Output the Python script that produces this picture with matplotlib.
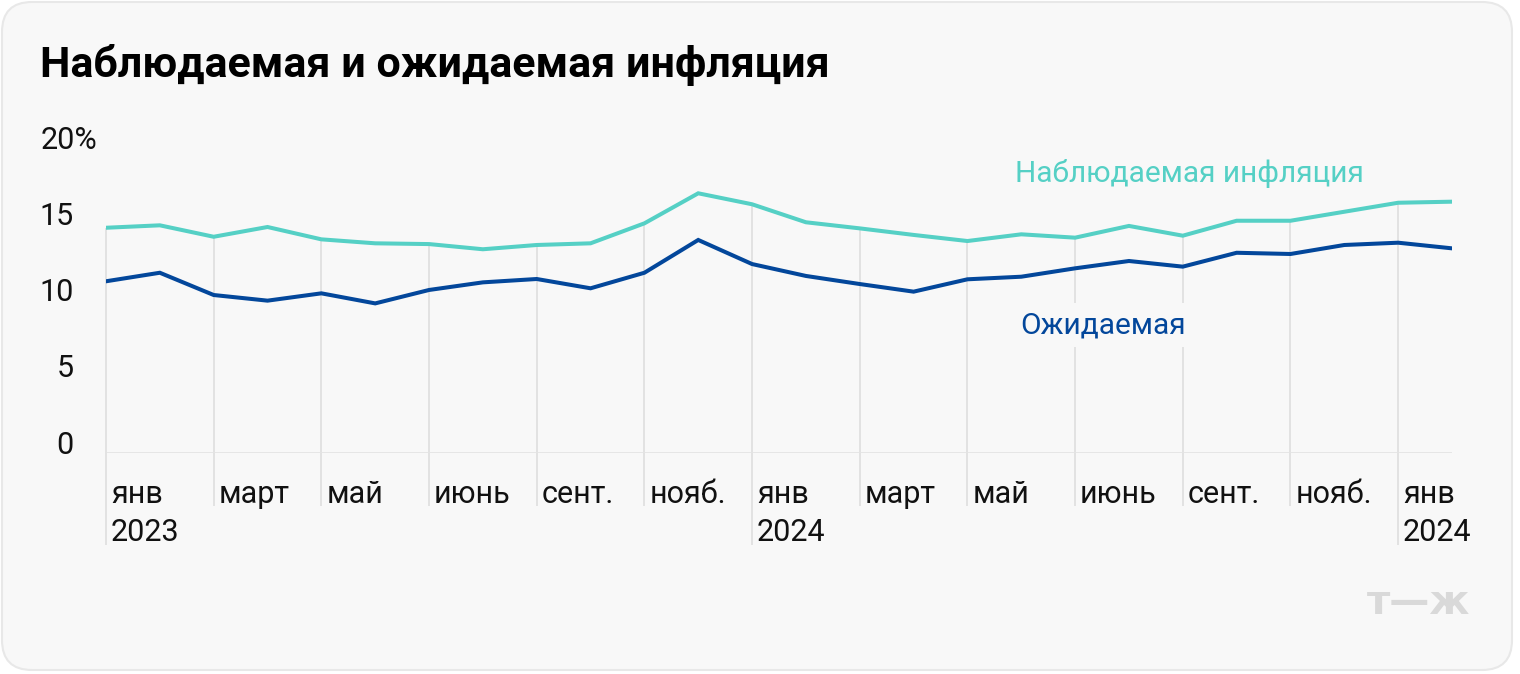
import numpy as np
import matplotlib.pyplot as plt
from matplotlib.patches import FancyBboxPatch
from matplotlib.transforms import IdentityTransform

# monthly points, jan 2023 .. feb 2025
observed = [14.77, 14.93, 14.18, 14.82, 14.01, 13.75, 13.70, 13.36, 13.64, 13.75,
            15.06, 17.03, 16.31, 15.13, 14.73, 14.30, 13.90, 14.34, 14.12, 14.89,
            14.25, 15.23, 15.23, 15.82, 16.41, 16.48]
expected = [11.26, 11.82, 10.36, 9.99, 10.47, 9.81, 10.69, 11.19, 11.41, 10.80,
            11.82, 13.97, 12.39, 11.61, 11.08, 10.58, 11.39, 11.56, 12.11, 12.59,
            12.22, 13.13, 13.05, 13.64, 13.79, 13.42]
month_labels = ["янв", "март", "май", "июнь", "сент.", "нояб.", "янв",
                "март", "май", "июнь", "сент.", "нояб.", "янв"]
year_labels = {0: "2023", 6: "2024", 12: "2024"}
y_ticks = [0, 5, 10, 15, 20]

CYAN = "#55d0c5"
BLUE = "#03479b"
CARD = "#f8f8f8"
GRID = "#e2e2e2"

plt.rcParams['font.family'] = ['Roboto', 'DejaVu Sans']

W, H = 1520, 674
fig = plt.figure(figsize=(W / 100, H / 100), dpi=100)
fig.patch.set_facecolor("white")

card = FancyBboxPatch((2, 4), 1510, 668, boxstyle="round,pad=0,rounding_size=30",
                      transform=IdentityTransform(), facecolor=CARD,
                      edgecolor="#e8e8e8", linewidth=1.5, zorder=0)
fig.add_artist(card)

x = np.arange(len(observed))
ax = fig.add_axes([106 / W, 1 - 453 / H, (1452 - 106) / W, 305 / H])
ax.set_xlim(0, len(observed) - 1)
ax.set_ylim(0, 20)
ax.axis("off")

# vertical gridlines: from the observed line down below the month labels
tick_idx = np.arange(0, len(observed), 2)
for k, i in enumerate(tick_idx):
    bottom = -6.0 if k in year_labels else -3.5
    ax.vlines(i, bottom, observed[i], color=GRID, linewidth=1.4, zorder=1, clip_on=False)
    ax.text(i + 0.09, -2.75, month_labels[k], fontsize=22, va="center", ha="left",
            color="#111111", clip_on=False)
    if k in year_labels:
        ax.text(i + 0.09, -5.2, year_labels[k], fontsize=22, va="center", ha="left",
                color="#111111", clip_on=False)

ax.hlines(0, 0, len(observed) - 1, color="#e4e4e4", linewidth=2, zorder=1)

ax.plot(x, observed, color=CYAN, linewidth=2.9, zorder=3, solid_joinstyle="miter")
ax.plot(x, expected, color=BLUE, linewidth=2.9, zorder=3, solid_joinstyle="miter")

ytr = ax.get_yaxis_transform()
for v in y_ticks:
    label = f"{v}%" if v == 20 else str(v)
    ax.text(-0.0486 if v == 20 else -0.024, v + 0.52, label, transform=ytr,
            fontsize=22, ha="left" if v == 20 else "right", va="center",
            color="#111111", clip_on=False)

ax.text(16.88, 18.3, "Наблюдаемая инфляция", fontsize=21.5, color=CYAN,
        ha="left", va="center")
ax.text(16.98, 8.39, "Ожидаемая", fontsize=21.5, color=BLUE, ha="left", va="center",
        bbox=dict(facecolor=CARD, edgecolor="none", pad=6), zorder=4)

fig.text(40 / W, 1 - 65 / H, "Наблюдаемая и ожидаемая инфляция", fontsize=31,
         fontweight="bold", ha="left", va="center", color="#000000")

fig.text(1419 / W, 1 - 603 / H, "т—ж", fontsize=29, fontweight="bold",
         family="DejaVu Sans", ha="center", va="center", color="#d9d9d9")

fig.savefig("out.png", dpi=100)
